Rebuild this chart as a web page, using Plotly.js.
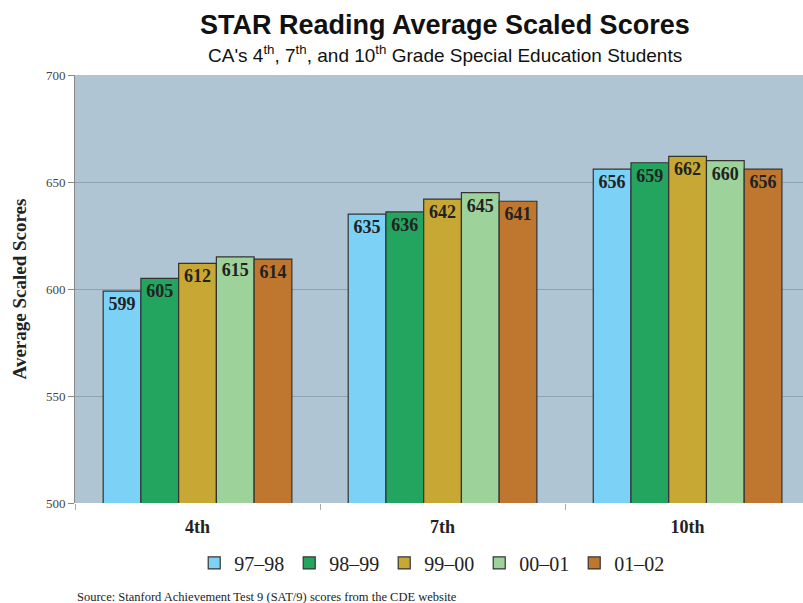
<!DOCTYPE html>
<html>
<head>
<meta charset="utf-8">
<script src="https://cdn.plot.ly/plotly-3.0.1.min.js"></script>
<style>html,body{margin:0;padding:0;background:#fff;}#chart{width:803px;height:603px;}</style>
</head>
<body>
<div id="chart"></div>
<script>
const grades = ["4th", "7th", "10th"];
const years = ["97–98", "98–99", "99–00", "00–01", "01–02"];
const scores9798 = [599, 635, 656];
const scores9899 = [605, 636, 659];
const scores9900 = [612, 642, 662];
const scores0001 = [615, 645, 660];
const scores0102 = [614, 641, 656];
const seriesValues = [scores9798, scores9899, scores9900, scores0001, scores0102];
const colors = ["#7CD2F6", "#23A45F", "#C7A834", "#9DD39B", "#BF772F"];
const yTicks = [500, 550, 600, 650, 700];

const serif = "Liberation Serif, DejaVu Serif, serif";
const traces = years.map((y, i) => ({
  type: "bar",
  name: y,
  x: grades,
  y: seriesValues[i],
  text: seriesValues[i].map(String),
  textposition: "inside",
  insidetextanchor: "end",
  textangle: 0,
  constraintext: "none",
  textfont: {family: serif, size: 18, color: "#222", weight: "bold"},
  marker: {color: colors[i], line: {color: "#333", width: 1.2}},
  hoverinfo: "none"
}));

const layout = {
  width: 803, height: 603,
  margin: {l: 75, r: 0, t: 75, b: 100},
  paper_bgcolor: "#ffffff",
  plot_bgcolor: "#B0C5D3",
  barmode: "group",
  bargap: 0.23,
  bargroupgap: 0,
  showlegend: true,
  legend: {
    orientation: "h", x: 0.49, xanchor: "center", y: -0.14, yanchor: "middle",
    font: {family: serif, size: 20, color: "#222"},
    itemwidth: 30, tracegroupgap: 0, traceorder: "normal"
  },
  xaxis: {
    type: "category",
    range: [-0.5, 2.471],
    tickfont: {family: serif, size: 18, color: "#222", weight: "bold"},
    ticks: "outside", ticklen: 6, tickcolor: "#aaa",
    tickson: "boundaries",
    ticklabelstandoff: 11,
    showline: false,
    showgrid: false,
    fixedrange: true
  },
  yaxis: {
    range: [500, 700],
    tickvals: yTicks,
    ticktext: yTicks.map(String),
    tickfont: {family: serif, size: 13, color: "#444"},
    ticks: "outside", ticklen: 6, tickcolor: "#888",
    showgrid: true, gridcolor: "#8EA2B0", gridwidth: 1,
    showline: true, linecolor: "#888", linewidth: 1,
    zeroline: false,
    title: {text: "Average Scaled Scores", font: {family: serif, size: 19, color: "#222", weight: "bold"}, standoff: 14},
    fixedrange: true
  },
  annotations: [
    {text: "STAR Reading Average Scaled Scores", xref: "paper", yref: "paper", x: 0.508, y: 1.0, yshift: 50, xanchor: "center", yanchor: "middle",
     showarrow: false, font: {family: "Liberation Sans Narrow, Liberation Sans, Arial, sans-serif", size: 27, color: "#111", weight: "bold"}},
    {text: "CA's 4<sup>th</sup>, 7<sup>th</sup>, and 10<sup>th</sup> Grade Special Education Students", xref: "paper", yref: "paper", x: 0.508, y: 1.0, yshift: 21, xanchor: "center", yanchor: "middle",
     showarrow: false, font: {family: "Liberation Sans Narrow, Liberation Sans, Arial, sans-serif", size: 19, color: "#111"}},
    {text: "Source: Stanford Achievement Test 9 (SAT/9) scores from the CDE website", xref: "paper", yref: "paper", x: 0, y: -0.22, xanchor: "left", yanchor: "middle",
     showarrow: false, font: {family: serif, size: 12.5, color: "#222"}}
  ]
};

Plotly.newPlot("chart", traces, layout, {displayModeBar: false, staticPlot: true});
</script>
</body>
</html>
